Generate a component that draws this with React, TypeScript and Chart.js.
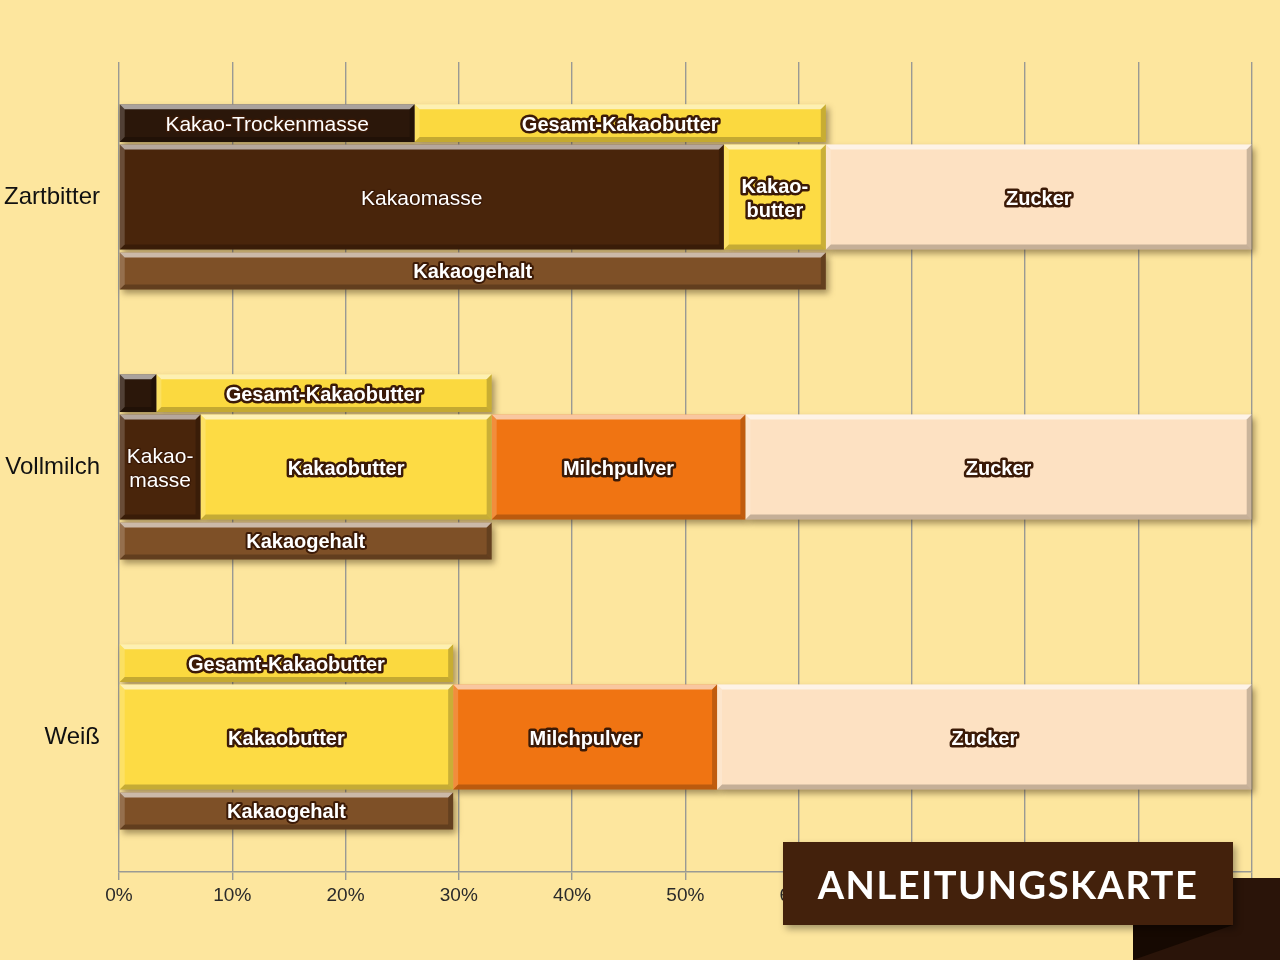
import React, { useEffect, useRef } from "react"
import { Chart, registerables } from "chart.js"

Chart.register(...registerables)

// Kategorien (y-Achse)
const categories = ["Zartbitter", "Vollmilch", "Weiß"]

// obere Leiste: Kakao-Trockenmasse + Gesamt-Kakaobutter (%)
const trockenmasse = [26.1, 3.3, null]
const gesamtKakaobutter = [36.3, 29.6, 29.5]

// Hauptleiste: Zusammensetzung (%)
const kakaomasse = [53.4, 7.2, null]
const kakaobutter = [9.0, 25.7, 29.5]
const milchpulver = [null, 22.4, 23.3]
const zucker = [37.6, 44.7, 47.2]

// untere Leiste: Kakaogehalt (%)
const kakaogehalt = [62.4, 32.9, 29.5]

// Achsenbeschriftung
const xTicks = [0, 10, 20, 30, 40, 50, 60, 70, 80, 90, 100]

// Texte in den Balken
const labelsTrocken = ["Kakao-Trockenmasse", "", ""]
const labelsGesamt = ["Gesamt-Kakaobutter", "Gesamt-Kakaobutter", "Gesamt-Kakaobutter"]
const labelsMasse = ["Kakaomasse", "Kakao-\nmasse", ""]
const labelsButter = ["Kakao-\nbutter", "Kakaobutter", "Kakaobutter"]
const labelsMilch = ["", "Milchpulver", "Milchpulver"]
const labelsZucker = ["Zucker", "Zucker", "Zucker"]
const labelsGehalt = ["Kakaogehalt", "Kakaogehalt", "Kakaogehalt"]

const FONT = "'Liberation Sans', Arial, sans-serif"

type Seg = { left: number; right: number; top: number; bottom: number }

function segOf(el: any): Seg {
  const p = el.getProps(["x", "y", "base", "height"], true)
  return {
    left: Math.min(p.x, p.base),
    right: Math.max(p.x, p.base),
    top: p.y - p.height / 2,
    bottom: p.y + p.height / 2,
  }
}

function poly(ctx: CanvasRenderingContext2D, pts: number[][], fill: string) {
  ctx.beginPath()
  ctx.moveTo(pts[0][0], pts[0][1])
  for (let i = 1; i < pts.length; i++) ctx.lineTo(pts[i][0], pts[i][1])
  ctx.closePath()
  ctx.fillStyle = fill
  ctx.fill()
}

// Schatten hinter allen Balken, Kanten (Fase) und Beschriftung darüber
const bevelPlugin = {
  id: "bevel",
  beforeDatasetsDraw(chart: any) {
    const ctx: CanvasRenderingContext2D = chart.ctx
    ctx.save()
    ctx.filter = "blur(3px)"
    ctx.fillStyle = "rgba(60,40,10,0.45)"
    chart.data.datasets.forEach((_: any, di: number) => {
      chart.getDatasetMeta(di).data.forEach((el: any, i: number) => {
        if (chart.data.datasets[di].data[i] == null) return
        const s = segOf(el)
        ctx.fillRect(s.left + 3, s.top + 4, s.right - s.left, s.bottom - s.top)
      })
    })
    ctx.restore()
  },
  afterDatasetsDraw(chart: any) {
    const ctx: CanvasRenderingContext2D = chart.ctx
    const b = 5
    ctx.save()
    chart.data.datasets.forEach((ds: any, di: number) => {
      chart.getDatasetMeta(di).data.forEach((el: any, i: number) => {
        if (ds.data[i] == null) return
        const { left: L, right: R, top: T, bottom: B } = segOf(el)
        poly(ctx, [[L, T], [R, T], [R - b, T + b], [L + b, T + b]], "rgba(255,255,255,0.6)")
        poly(ctx, [[L, T], [L + b, T + b], [L + b, B - b], [L, B]], "rgba(255,255,255,0.18)")
        poly(ctx, [[R, T], [R, B], [R - b, B - b], [R - b, T + b]], "rgba(0,0,0,0.2)")
        poly(ctx, [[L, B], [R, B], [R - b, B - b], [L + b, B - b]], "rgba(0,0,0,0.22)")
      })
    })

    // Beschriftung
    ctx.textAlign = "center"
    ctx.textBaseline = "middle"
    ctx.lineJoin = "round"
    chart.data.datasets.forEach((ds: any, di: number) => {
      const texts: string[] = ds.segLabels
      chart.getDatasetMeta(di).data.forEach((el: any, i: number) => {
        const t = texts[i]
        if (!t || ds.data[i] == null) return
        const s = segOf(el)
        const cx = (s.left + s.right) / 2
        const cy = (s.top + s.bottom) / 2 + 2
        const lines = t.split("\n")
        ctx.font = ds.labelFont
        ctx.lineWidth = ds.labelStroke
        ctx.strokeStyle = "#3b1a07"
        ctx.fillStyle = "#ffffff"
        lines.forEach((ln, k) => {
          const y = cy + (k - (lines.length - 1) / 2) * 24
          if (ds.labelStroke > 0) ctx.strokeText(ln, cx, y)
          ctx.fillText(ln, cx, y)
        })
      })
    })
    ctx.restore()
  },
}

export default function App() {
  const canvasRef = useRef<HTMLCanvasElement>(null)
  const chartRef = useRef<Chart | null>(null)

  useEffect(() => {
    if (!canvasRef.current) return
    const ctx = canvasRef.current.getContext("2d")
    if (!ctx) return

    chartRef.current?.destroy()

    const bold = `bold 20px ${FONT}`
    const reg = `21px ${FONT}`

    const mk = (label: string, data: (number | null)[], stack: string, color: string, barPct: number, segLabels: string[], labelFont: string, labelStroke: number) => ({
      label,
      data,
      stack,
      backgroundColor: color,
      borderWidth: 0,
      barPercentage: barPct,
      categoryPercentage: 0.822,
      segLabels,
      labelFont,
      labelStroke,
    })

    chartRef.current = new Chart(ctx, {
      type: "bar",
      data: {
        labels: categories,
        datasets: [
          mk("Kakao-Trockenmasse", trockenmasse, "oben", "#2b170a", 0.51, labelsTrocken, reg, 3),
          mk("Gesamt-Kakaobutter", gesamtKakaobutter, "oben", "#fbd93f", 0.51, labelsGesamt, bold, 5),
          mk("Kakaomasse", kakaomasse, "mitte", "#49250b", 1.42, labelsMasse, reg, 2.5),
          mk("Kakaobutter", kakaobutter, "mitte", "#fddb44", 1.42, labelsButter, bold, 5),
          mk("Milchpulver", milchpulver, "mitte", "#f07412", 1.42, labelsMilch, bold, 5),
          mk("Zucker", zucker, "mitte", "#fde1c2", 1.42, labelsZucker, bold, 5),
          mk("Kakaogehalt", kakaogehalt, "unten", "#7e5027", 0.5, labelsGehalt, bold, 4),
        ] as any,
      },
      options: {
        indexAxis: "y",
        responsive: true,
        maintainAspectRatio: false,
        animation: false,
        layout: { padding: { left: 0, top: 62, right: 28, bottom: 0 } },
        plugins: {
          legend: { display: false },
          tooltip: { enabled: false },
        },
        scales: {
          x: {
            stacked: true,
            min: 0,
            max: 100,
            afterBuildTicks: (scale: any) => {
              scale.ticks = xTicks.map((v) => ({ value: v }))
            },
            afterFit: (scale: any) => {
              scale.height = 88
            },
            grid: { color: "#9a9a94", lineWidth: 1.4, tickLength: 8 },
            border: { color: "#9a9a94", width: 1.4 },
            ticks: {
              color: "#2a2a2a",
              font: { family: FONT, size: 19 },
              padding: 4,
              callback: (v: any) => `${v}%`,
            },
          },
          y: {
            stacked: true,
            afterFit: (scale: any) => {
              scale.width = 119
            },
            grid: { display: false, drawTicks: false },
            border: { display: false },
            ticks: {
              color: "#111111",
              font: { family: FONT, size: 24 },
              padding: 19,
            },
          },
        },
      },
      plugins: [bevelPlugin],
    })

    return () => {
      chartRef.current?.destroy()
      chartRef.current = null
    }
  }, [])

  return (
    <div style={{ position: "absolute", left: 0, top: 0, width: 1280, height: 960, background: "#fde69e", overflow: "hidden" }}>
      <div style={{ position: "absolute", left: 0, top: 0, width: 1280, height: 960 }}>
        <canvas ref={canvasRef} />
      </div>
      {/* Band-Ende */}
      <div style={{ position: "absolute", left: 1133, top: 878, width: 147, height: 82, background: "#2a1409" }} />
      <div
        style={{
          position: "absolute",
          left: 1133,
          top: 925,
          width: 100,
          height: 35,
          background: "#160902",
          clipPath: "polygon(0 0, 100% 0, 0 100%)",
        }}
      />
      {/* Etikett */}
      <div
        style={{
          position: "absolute",
          left: 783,
          top: 842,
          width: 450,
          height: 83,
          background: "#43210c",
          boxShadow: "3px 4px 7px rgba(0,0,0,0.35)",
          color: "#ffffff",
          fontFamily: "Lato, 'Open Sans', sans-serif",
          fontWeight: 700,
          fontSize: 38,
          letterSpacing: 1.5,
          display: "flex",
          alignItems: "center",
          justifyContent: "center",
        }}
      >
        ANLEITUNGSKARTE
      </div>
    </div>
  )
}
